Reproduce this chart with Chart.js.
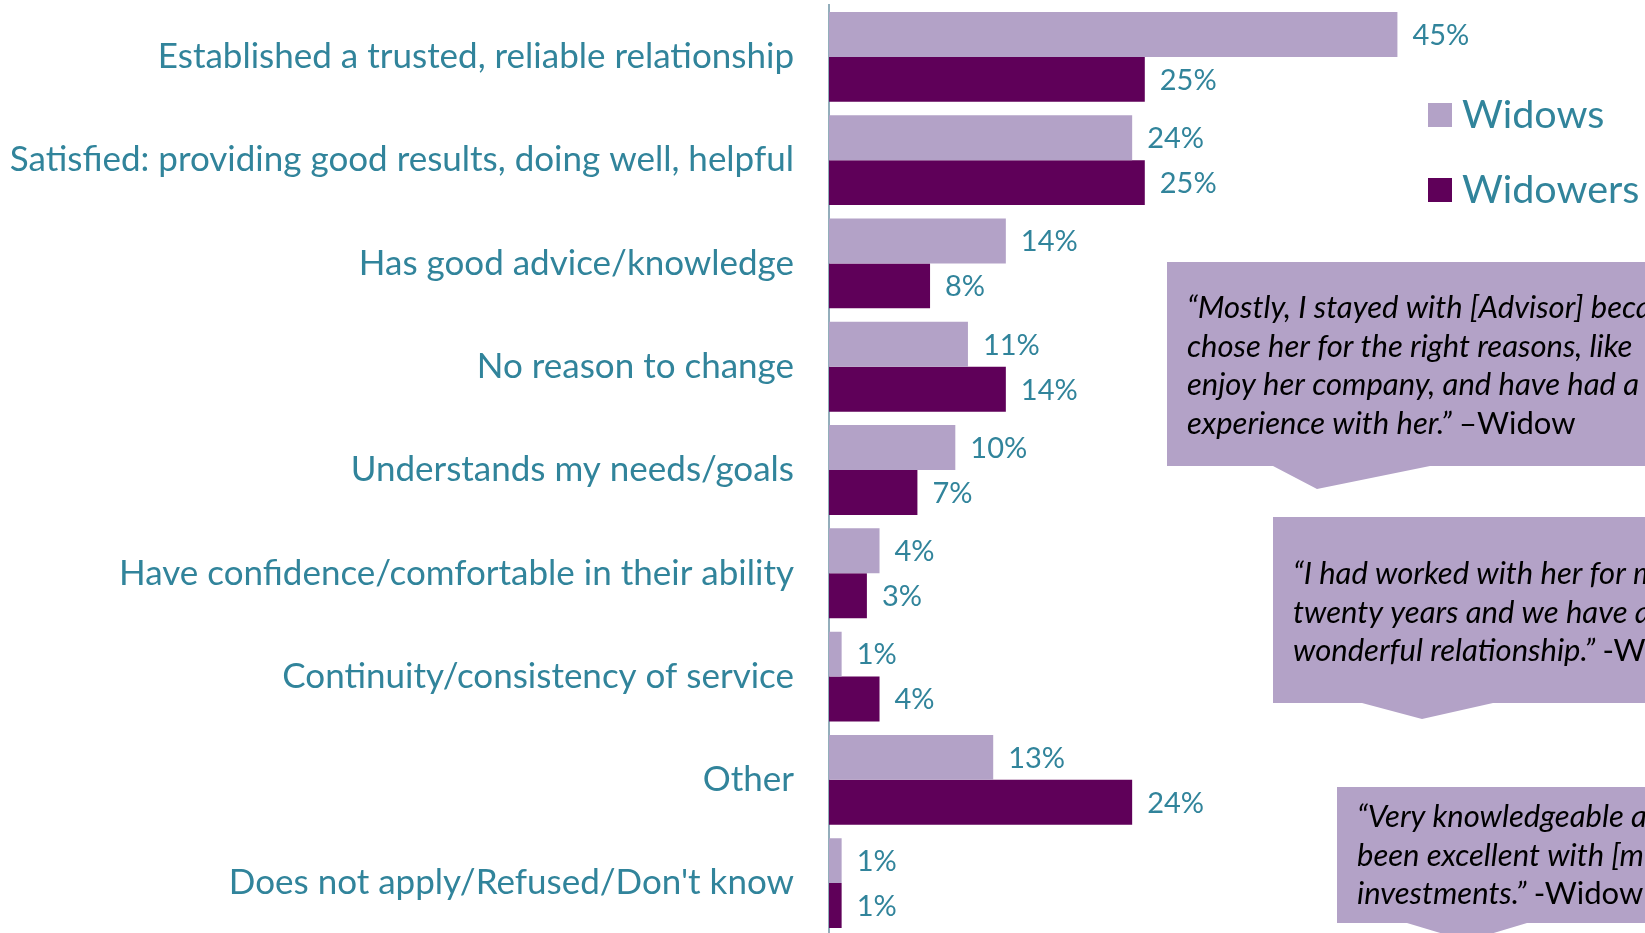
<!DOCTYPE html>
<html>
<head>
<meta charset="utf-8">
<script src="https://cdn.jsdelivr.net/npm/chart.js@4.4.1/dist/chart.umd.min.js"></script>
<style>
  html, body { margin: 0; padding: 0; background: #ffffff; overflow: hidden; width: 1645px; height: 933px; }
  #wrap { position: absolute; left: 0; top: 0; width: 1645px; height: 940px; }
</style>
</head>
<body>
<div id="wrap"><canvas id="c" width="1645" height="940"></canvas></div>
<script>
// Reasons for staying with the advisor, share of respondents (%)
const categories = [
  'Established a trusted, reliable relationship',
  'Satisfied: providing good results, doing well, helpful',
  'Has good advice/knowledge',
  'No reason to change',
  'Understands my needs/goals',
  'Have confidence/comfortable in their ability',
  'Continuity/consistency of service',
  'Other',
  "Does not apply/Refused/Don't know"
];
const seriesNames = ['Widows', 'Widowers'];
const widowsValues   = [45, 24, 14, 11, 10, 4, 1, 13, 1];
const widowersValues = [25, 25, 8, 14, 7, 3, 4, 24, 1];

// Quotes shown in the call-out boxes: [italic part, attribution]
const quoteOne = [
  ['\u201CMostly, I stayed with [Advisor] because I', ''],
  ['chose her for the right reasons, like', ''],
  ['enjoy her company, and have had a good', ''],
  ['experience with her.\u201D ', '\u2013Widow']
];
const quoteTwo = [
  ['\u201CI had worked with her for more than', ''],
  ['twenty years and we have a', ''],
  ['wonderful relationship.\u201D ', '-Widow']
];
const quoteThree = [
  ['\u201CVery knowledgeable and has', ''],
  ['been excellent with [my]', ''],
  ['investments.\u201D ', '-Widow']
];

const TEAL = '#31849B';
const LIGHT = '#B3A2C7';
const DARK = '#5F0059';
const FONT = 'Lato, "Open Sans", sans-serif';

// Percent labels at the end of each bar
const valueLabels = {
  id: 'valueLabels',
  afterDatasetsDraw(chart) {
    const ctx = chart.ctx;
    ctx.save();
    ctx.font = '29px ' + FONT;
    ctx.fillStyle = TEAL;
    ctx.textAlign = 'left';
    ctx.textBaseline = 'middle';
    chart.data.datasets.forEach((ds, i) => {
      chart.getDatasetMeta(i).data.forEach((el, j) => {
        ctx.fillText(ds.data[j] + '%', el.x + 15, el.y + 1);
      });
    });
    ctx.restore();
  }
};

// Legend squares and call-out boxes with quotes
const decorations = {
  id: 'decorations',
  afterDraw(chart) {
    const ctx = chart.ctx;
    ctx.save();

    // legend
    const legendRows = [103, 178];
    chart.data.datasets.forEach((ds, i) => {
      ctx.fillStyle = ds.backgroundColor;
      ctx.fillRect(1428, legendRows[i], 24, 24);
      ctx.fillStyle = TEAL;
      ctx.font = '39.5px ' + FONT;
      ctx.textBaseline = 'middle';
      ctx.textAlign = 'left';
      ctx.fillText(ds.label, 1462, legendRows[i] + 12);
    });

    function callout(box, tip, lines, textX, firstBase) {
      ctx.fillStyle = LIGHT;
      ctx.beginPath();
      ctx.moveTo(box.x, box.y);
      ctx.lineTo(1700, box.y);
      ctx.lineTo(1700, box.b);
      ctx.lineTo(tip.r, box.b);
      ctx.lineTo(tip.ax, tip.ay);
      ctx.lineTo(tip.l, box.b);
      ctx.lineTo(box.x, box.b);
      ctx.closePath();
      ctx.fill();
      ctx.fillStyle = '#000000';
      ctx.textBaseline = 'alphabetic';
      ctx.textAlign = 'left';
      lines.forEach((ln, k) => {
        const y = firstBase + k * 38.5;
        ctx.font = 'italic 31px ' + FONT;
        ctx.fillText(ln[0], textX, y);
        if (ln[1]) {
          const w = ctx.measureText(ln[0]).width;
          ctx.font = '31px ' + FONT;
          ctx.fillText(ln[1], textX + w, y);
        }
      });
    }

    callout({ x: 1167, y: 262, b: 466 }, { l: 1273, ax: 1317, ay: 489, r: 1430 }, quoteOne, 1187, 318);
    callout({ x: 1273, y: 517, b: 703 }, { l: 1362, ax: 1422, ay: 719, r: 1493 }, quoteTwo, 1293, 584);
    callout({ x: 1337, y: 787, b: 923 }, { l: 1407, ax: 1467, ay: 941, r: 1527 }, quoteThree, 1357, 827);

    ctx.restore();
  }
};

new Chart(document.getElementById('c'), {
  type: 'bar',
  data: {
    labels: categories,
    datasets: [
      { label: seriesNames[0], data: widowsValues, backgroundColor: LIGHT },
      { label: seriesNames[1], data: widowersValues, backgroundColor: DARK }
    ]
  },
  options: {
    indexAxis: 'y',
    responsive: false,
    animation: false,
    devicePixelRatio: 1,
    layout: { padding: 0 },
    datasets: { bar: { categoryPercentage: 0.87, barPercentage: 1.0 } },
    plugins: { legend: { display: false }, tooltip: { enabled: false } },
    scales: {
      x: { display: false, min: 0, max: 64.6 },
      y: {
        afterFit(scale) { scale.width = 829; },
        grid: { display: false, drawTicks: true, tickLength: 35 },
        border: { display: true, color: '#93AEBB', width: 2 },
        ticks: { color: TEAL, font: { family: FONT, size: 35, lineHeight: 0.3 }, padding: 0 }
      }
    }
  },
  plugins: [valueLabels, decorations]
});
</script>
</body>
</html>
